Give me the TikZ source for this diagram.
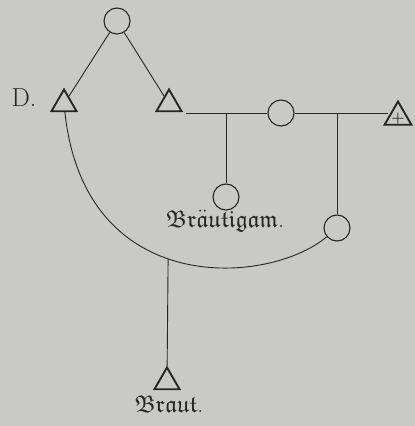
\documentclass[tikz,border=0pt]{standalone}
\usepackage{amssymb}
\usetikzlibrary{shapes.geometric}
\definecolor{paper}{RGB}{201,201,199}
\definecolor{ink}{RGB}{38,38,38}
\newcommand{\frk}[1]{$\mathfrak{#1}$}
\begin{document}
\begin{tikzpicture}[x=1pt,y=-1pt,
 per/.style={circle,draw=ink,line width=1.1pt,minimum size=26pt,inner sep=0pt},
 man/.style={regular polygon,regular polygon sides=3,draw=ink,line width=1.9pt,
             minimum size=29pt,inner sep=0pt},
 lnk/.style={draw=ink,line width=0.9pt},
 frak/.style={text=ink,font=\fontsize{24}{24}\selectfont}]
 \fill[paper] (0,0) rectangle (415,426);
 \useasboundingbox (0,0) rectangle (415,426);
 \node[per] (c0) at (117,21) {};
 \node[man] (tD) at (64,104) {};
 \node[man] (tR) at (169,104) {};
 \node[per] (c1) at (281,113) {};
 \node[man,minimum size=31pt] (tP) at (398,117) {};
 \node[text=ink,inner sep=0pt,font=\fontsize{15}{15}\selectfont\bfseries]
  (pl) at (398,118.5) {+};
 \node[per] (c2) at (226,197) {};
 \node[per] (c3) at (337,228) {};
 \node[man] (tB) at (167,382) {};
 \node[text=ink,font=\fontsize{26}{26}\selectfont] (nD) at (24,98) {D.};
 \node[frak] (nG) at (225,221)
  {\frk{Br}$\ddot{\mathfrak{a}}$\frk{utigam}.};
 \node[frak] (nB) at (169,404) {\frk{Braut}.};
 \coordinate (h0) at (186,113);
 \coordinate (j1) at (226,113);
 \coordinate (j2) at (337,113);
 \foreach \a/\b in {c0/tD,c0/tR,h0/c1,j1/c2,j2/c3}
  \draw[lnk] (\a) -- (\b);
 \draw[lnk] (c1) -- (c1 -| tP.west);
 \draw[lnk] (tD) .. controls (85,300) and (270,285) .. (c3)
  coordinate[pos=0.458] (j3);
 \draw[lnk] (j3) -- (tB);
\end{tikzpicture}
\end{document}
